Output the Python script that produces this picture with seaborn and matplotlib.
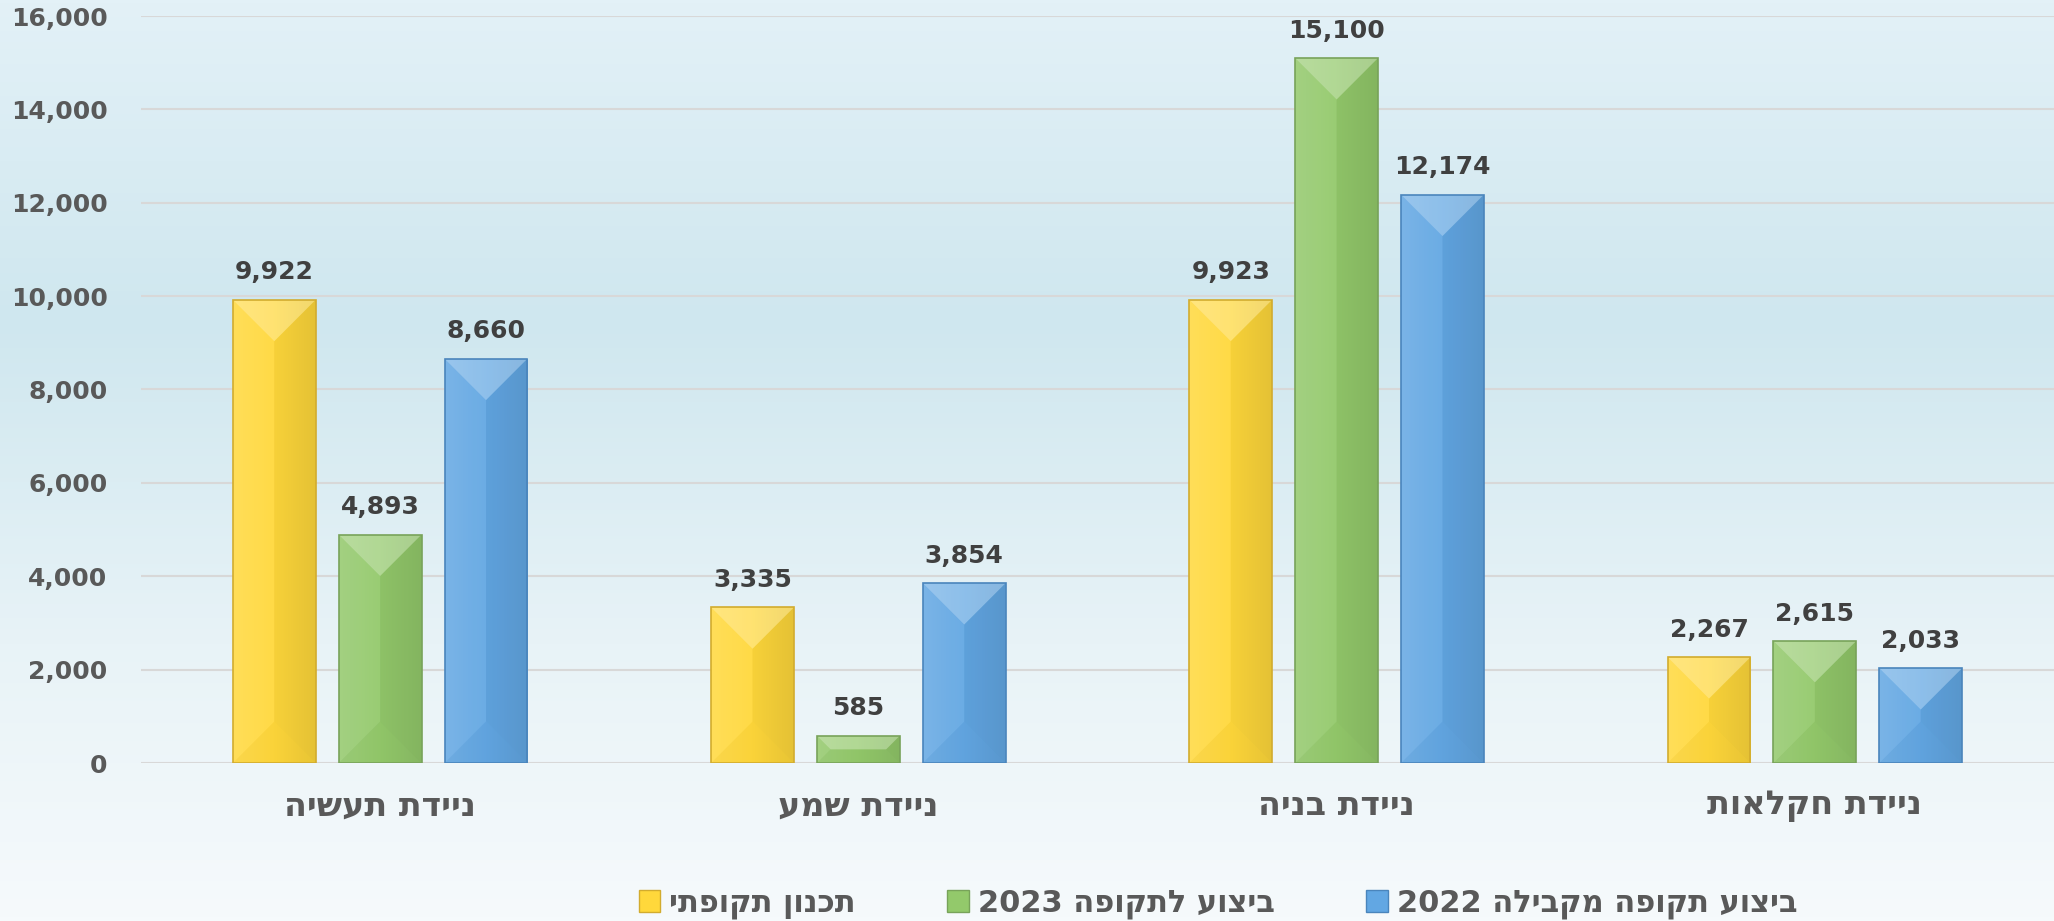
import numpy as np
import pandas as pd
import matplotlib
matplotlib.use("Agg")
import matplotlib.pyplot as plt
import seaborn as sns
from matplotlib.colors import LinearSegmentedColormap, to_rgb
from matplotlib.patches import Polygon, Rectangle

# ---- data ----
categories = ["ניידת תעשיה", "ניידת שמע", "ניידת בניה", "ניידת חקלאות"]
series = ["תכנון תקופתי", "ביצוע לתקופה 2023", "ביצוע תקופה מקבילה 2022"]
plan = [9922, 3335, 9923, 2267]
exec_2023 = [4893, 585, 15100, 2615]
exec_2022 = [8660, 3854, 12174, 2033]
yticks = [0, 2000, 4000, 6000, 8000, 10000, 12000, 14000, 16000]

colors = ["#FFD83B", "#93C96B", "#62A7E3"]
edges = ["#D2AC2E", "#78A35A", "#4A85BC"]


def vis(s):
    """Convert logical-order Hebrew text to visual order for LTR rendering."""
    return " ".join(w if any(c.isdigit() for c in w) else w[::-1]
                    for w in reversed(s.split()))


df = pd.DataFrame({
    "category": categories * 3,
    "series": [series[0]] * 4 + [series[1]] * 4 + [series[2]] * 4,
    "value": plan + exec_2023 + exec_2022,
})

sns.set_theme(style="white")
plt.rcParams["font.family"] = ["DejaVu Sans", "Liberation Sans"]

W, H = 2054, 921
fig = plt.figure(figsize=(W / 100, H / 100), dpi=100)

# background gradient
bg = fig.add_axes([0, 0, 1, 1], zorder=-10)
cmap = LinearSegmentedColormap.from_list(
    "bg", [(0.0, "#E3F1F7"), (0.35, "#CFE7EF"), (0.7, "#E8F3F7"), (1.0, "#F6FAFC")])
grad = np.linspace(0, 1, 256).reshape(-1, 1)
bg.imshow(grad, aspect="auto", cmap=cmap, extent=[0, 1, 1, 0])
bg.set_axis_off()

ax = fig.add_axes([141 / W, (H - 763) / H, (W - 141) / W, (763 - 16) / H])
ax.set_facecolor("none")

sns.barplot(data=df, x="category", y="value", hue="series", order=categories,
            hue_order=series, palette=colors, width=0.664, gap=0.217,
            legend=False, ax=ax, saturation=1, zorder=3)

ax.set_xlim(-0.5, 3.5)
ax.set_ylim(0, 16000)
ax.set_yticks(yticks)
ax.set_yticklabels([f"{v:,}" for v in yticks])
ax.set_xticks(range(len(categories)))
ax.set_xticklabels([vis(c) for c in categories])
ax.set_xlabel("")
ax.set_ylabel("")
for s in ax.spines.values():
    s.set_visible(False)
ax.grid(axis="y", color="#D8D8D8", linewidth=1.5, zorder=0)
ax.set_axisbelow(True)
ax.tick_params(axis="y", length=0, pad=24, labelsize=18, labelcolor="#595959")
ax.tick_params(axis="x", length=0, pad=19, labelsize=24, labelcolor="#595959")
for t in ax.get_yticklabels() + ax.get_xticklabels():
    t.set_fontweight("bold")

# bevel effect derived from bar patches
fig.canvas.draw()
sx = ax.bbox.width / 4.0
sy = ax.bbox.height / 16000.0


def mix(c, other, f):
    c = np.array(to_rgb(c))
    o = np.array(to_rgb(other))
    return tuple(c * (1 - f) + o * f)


hgrad = np.linspace(0, 1, 64).reshape(1, -1)
for ci, cont in enumerate(ax.containers):
    base = colors[ci]
    gcmap = LinearSegmentedColormap.from_list(
        f"g{ci}", [mix(base, "white", 0.10), base, mix(base, "black", 0.07)])
    for p in cont.patches:
        x, y = p.get_x(), p.get_y()
        w, h = p.get_width(), p.get_height()
        p.set_edgecolor("none")
        im = ax.imshow(hgrad, cmap=gcmap, aspect="auto",
                       extent=[x, x + w, y, y + h], zorder=3.2,
                       interpolation="bilinear")
        im.set_clip_path(p)
        b = min(w * sx, h * sy) / 2.0
        bx, by = b / sx, b / sy
        TL, TR = (x, y + h), (x + w, y + h)
        BL, BR = (x, y), (x + w, y)
        iTL, iTR = (x + bx, y + h - by), (x + w - bx, y + h - by)
        iBL, iBR = (x + bx, y + by), (x + w - bx, y + by)
        facets = [
            ([BL, TL, iTL, iBL], "white", 0.06),
            ([BR, TR, iTR, iBR], "black", 0.03),
            ([BL, BR, iBR, iBL], "black", 0.02),
            ([TL, TR, iTR, iTL], "white", 0.28),
        ]
        for pts, col, a in facets:
            ax.add_patch(Polygon(pts, closed=True, facecolor=col, alpha=a,
                                 edgecolor="none", zorder=3.5))
        ax.add_patch(Rectangle((x, y), w, h, facecolor="none",
                               edgecolor=edges[ci], linewidth=1.2, zorder=3.6))
    ax.bar_label(cont, labels=[f"{v:,.0f}" for v in cont.datavalues],
                 padding=11, fontsize=18, fontweight="bold", color="#404040")

ax.set_xlim(-0.5, 3.5)
ax.set_ylim(0, 16000)

handles = [Rectangle((0, 0), 1, 1, facecolor=colors[i], edgecolor=edges[i],
                     linewidth=1.0) for i in range(3)]
leg = fig.legend(handles, [vis(s) for s in series], loc="center",
                 bbox_to_anchor=(1218 / W, 1 - 904 / H), ncol=3, frameon=False,
                 handlelength=0.7, handleheight=0.7, handletextpad=0.3,
                 columnspacing=3.0, prop={"size": 22, "weight": "bold"})
for t in leg.get_texts():
    t.set_color("#595959")

fig.savefig("out.png", dpi=100)
